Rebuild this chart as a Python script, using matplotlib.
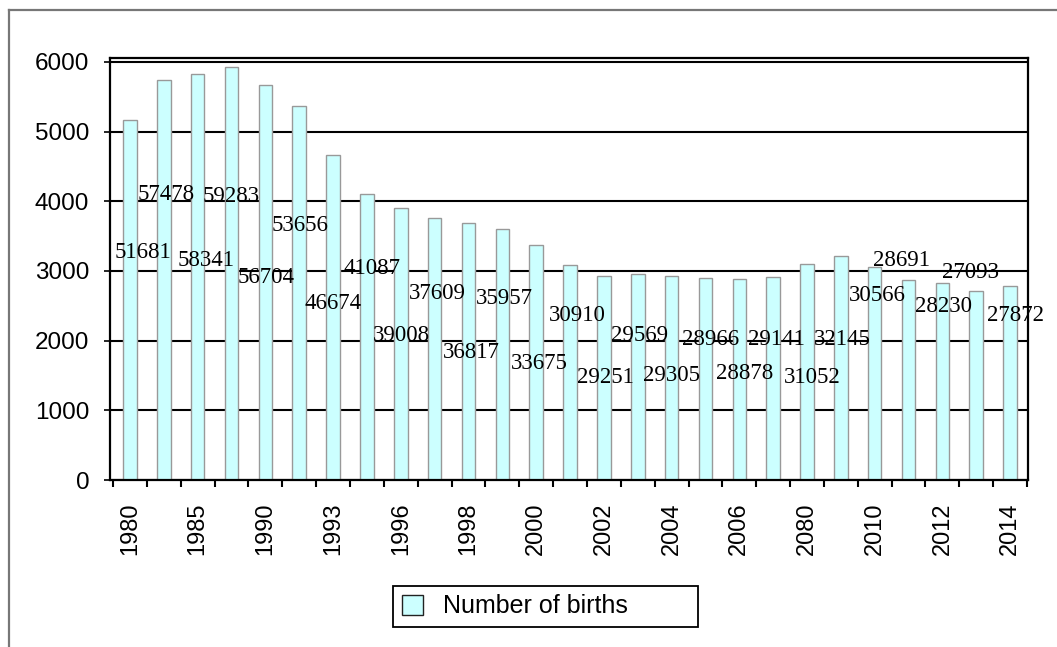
import numpy as np
import matplotlib.pyplot as plt
from matplotlib.lines import Line2D

# Births per year; bars are drawn in tens of births (axis goes 0..6000)
years = ["1980", "", "1985", "", "1990", "", "1993", "", "1996", "", "1998", "",
         "2000", "", "2002", "", "2004", "", "2006", "", "2080", "", "2010", "",
         "2012", "", "2014"]
births = [51681, 57478, 58341, 59283, 56704, 53656, 46674, 41087, 39008,
          37609, 36817, 35957, 33675, 30910, 29251, 29569, 29305, 28966,
          28878, 29141, 31052, 32145, 30566, 28691, 28230, 27093, 27872]

# where each value label sits (height in axis units, sideways shift in bars)
label_y = [3270, 4100, 3150, 4070, 2900, 3660, 2540, 3040, 2080, 2680, 1830,
           2610, 1670, 2360, 1470, 2080, 1500, 2020, 1530, 2020, 1470, 2020,
           2650, 3150, 2490, 2980, 2360]
label_dx = [0.38, 0.06, 0.24, 0, 0.03, 0.03, 0, 0.15, 0.03, 0.09, 0.07, 0.05,
            0.08, 0.21, 0.06, 0.06, 0, 0.16, 0.17, 0.11, 0.15, 0.03, 0.07,
            -0.22, 0.02, -0.16, 0.15]

plt.rcParams["font.family"] = ["Liberation Sans", "DejaVu Sans"]

fig = plt.figure(figsize=(10.57, 6.47), dpi=100)
ax = fig.add_axes([0.1041, 0.2581, 0.8685, 0.6515])

x = np.arange(len(births))
heights = np.array(births) / 10.0

ax.set_axisbelow(True)
ax.yaxis.grid(True, color="black", linewidth=1.5)
ax.bar(x, heights, width=0.4, color="#CCFFFF", edgecolor="#999999",
       linewidth=1.0, label="Number of births", zorder=2)

for xi, v, ly, dx in zip(x, births, label_y, label_dx):
    ax.text(xi + dx, ly, str(v), ha="center", va="center",
            fontsize=16.5, family=["Liberation Serif", "DejaVu Serif"],
            zorder=3)

ax.set_xlim(-0.59, 26.53)
ax.set_ylim(0, 6050)
ax.set_yticks(range(0, 6001, 1000))
ax.tick_params(axis="y", labelsize=17.5, length=4, width=1.2, pad=11,
               direction="out")

# labels on every second category, tick marks on category borders
ax.set_xticks(x[::2])
ax.set_xticklabels(years[::2], rotation=90)
ax.set_xticks(np.arange(-0.5, len(births)), minor=True)
ax.tick_params(axis="x", which="major", length=0, labelsize=17, pad=16)
ax.tick_params(axis="x", which="minor", length=5, width=1.5, direction="out")

for sp in ax.spines.values():
    sp.set_color("black")
    sp.set_linewidth(1.6)

leg = ax.legend(loc="lower left", bbox_to_anchor=(0.3718, 0.0309, 0.2886, 0.0696),
                bbox_transform=fig.transFigure, mode="expand", fontsize=18,
                fancybox=False, framealpha=1, edgecolor="black",
                handlelength=0.85, handleheight=0.85, handletextpad=0.8,
                borderpad=0.35, borderaxespad=0)
leg.get_frame().set_linewidth(1.3)
leg.legend_handles[0].set_edgecolor("#222222")

# grey frame around the whole chart
fig.add_artist(Line2D([0.0085, 1.0], [1 - 10 / 647, 1 - 10 / 647],
                      transform=fig.transFigure, color="#777777", linewidth=1.6))
fig.add_artist(Line2D([0.0085, 0.0085], [0.0, 1 - 10 / 647],
                      transform=fig.transFigure, color="#777777", linewidth=1.6))

fig.savefig("out.png", dpi=100)
